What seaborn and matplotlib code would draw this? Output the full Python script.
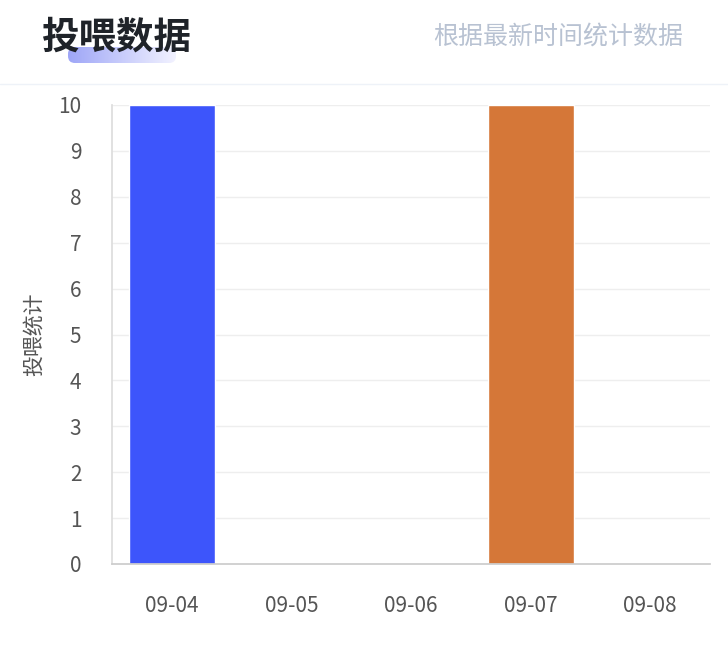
import matplotlib
matplotlib.use("Agg")
import matplotlib.pyplot as plt
import seaborn as sns
import numpy as np
import pandas as pd
from matplotlib.patches import FancyBboxPatch

dates = ["09-04", "09-05", "09-06", "09-07", "09-08"]
values = [10, 0, 0, 10, 0]
colors = ["#3d55fb", "#3d55fb", "#3d55fb", "#d57738", "#3d55fb"]
yticks = list(range(0, 11))

sns.set_theme(style="white")
plt.rcParams['font.family'] = ['Noto Sans CJK SC', 'DejaVu Sans']

W, H = 728, 660
fig = plt.figure(figsize=(W/100, H/100), dpi=100)

# header underline gradient
gax = fig.add_axes([0, 0, 1, 1], zorder=0)
gax.set_xlim(0, W); gax.set_ylim(H, 0); gax.axis('off')
grad = np.linspace(0, 1, 256).reshape(1, -1)
from matplotlib.colors import LinearSegmentedColormap
cm = LinearSegmentedColormap.from_list("g", ["#9ea6f7", "#f2f2ff"])
im = gax.imshow(grad, extent=[68, 176, 63, 47], cmap=cm, aspect='auto')
clip = FancyBboxPatch((68, 47), 108, 16, boxstyle="round,pad=0,rounding_size=7",
                      transform=gax.transData, facecolor='none', edgecolor='none')
gax.add_patch(clip); im.set_clip_path(clip)
gax.plot([0, W], [84, 84], color="#eef2f8", lw=1)
fig.text(42/W, 1-37/H, "投喂数据", fontsize=27, fontweight='bold', color="#1f2329", va='center', zorder=5)
fig.text(683/W, 1-37/H, "根据最新时间统计数据", fontsize=18, color="#b8c2d2", va='center', ha='right')

ax = fig.add_axes([112/W, 1-564/H, (710-112)/W, (564-105)/H], zorder=2)
ax.patch.set_alpha(0)
df = pd.DataFrame({"date": dates, "value": values})
sns.barplot(data=df, x="date", y="value", hue="date", palette=colors, legend=False,
            width=0.72, ax=ax, saturation=1)
ax.set_xlim(-0.5, 4.5)
ax.set_ylim(0, 10)
ax.set_yticks(yticks)
ax.yaxis.grid(True, color="#eeeeee", lw=1)
ax.set_axisbelow(True)
for s in ["top", "right"]:
    ax.spines[s].set_visible(False)
ax.spines["left"].set_color("#dddddd")
ax.spines["bottom"].set_color("#cccccc")
ax.tick_params(axis='y', labelsize=15, labelcolor="#555555", length=0, pad=22)
ax.tick_params(axis='x', labelsize=15, labelcolor="#555555", length=0, pad=22)
ax.set_xlabel("")
ax.set_ylabel("投喂统计", fontsize=15, color="#555555", labelpad=10)

fig.savefig("out.png", dpi=100)
